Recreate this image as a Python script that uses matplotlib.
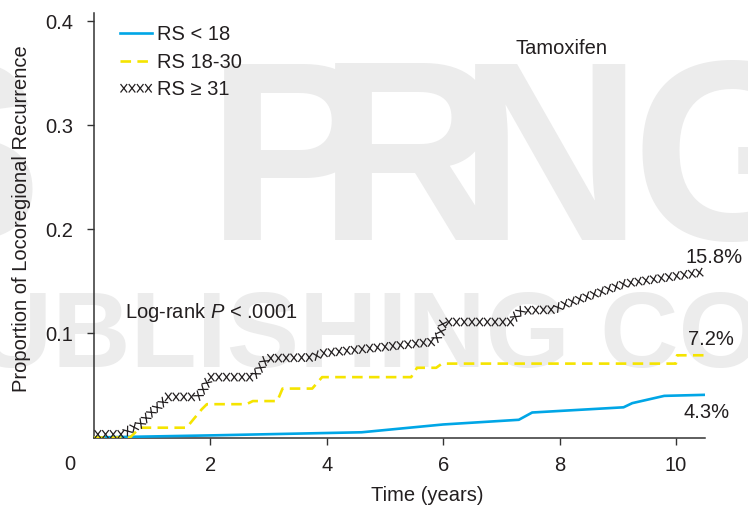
import matplotlib
matplotlib.use("Agg")
import matplotlib.pyplot as plt
import matplotlib.patheffects as pe

plt.rcParams['font.family'] = ['Liberation Sans', 'DejaVu Sans']
plt.rcParams['mathtext.fontset'] = 'custom'
plt.rcParams['mathtext.rm'] = 'Liberation Sans'
plt.rcParams['mathtext.it'] = 'Liberation Sans:italic'

#%% Datos (curvas acumuladas de recurrencia locorregional)
t_low = [0, 2.0, 4.6, 6.0, 7.3, 7.53, 9.1, 9.25, 9.8, 10.5]
y_low = [0, 0.002, 0.005, 0.0125, 0.017, 0.024, 0.029, 0.033, 0.040, 0.041]

t_mid = [0, 0.62, 0.79, 1.59, 1.85, 1.94, 2.62, 2.73, 3.15, 3.24, 3.75, 3.92,
         5.45, 5.55, 5.88, 5.98, 10.0, 10.02, 10.5]
y_mid = [0, 0, 0.0094, 0.0094, 0.027, 0.032, 0.032, 0.035, 0.035, 0.047, 0.047, 0.058,
         0.058, 0.067, 0.067, 0.071, 0.071, 0.079, 0.079]

t_high = [0, 0.5, 0.62, 0.78, 0.9, 1.0, 1.15, 1.27, 1.78, 1.9, 1.99, 2.73, 2.85,
          2.96, 3.75, 3.93, 5.84, 5.96, 6.0, 7.18, 7.26, 7.34, 7.92, 8.04, 9.13, 10.47]
y_high = [0.003, 0.003, 0.008, 0.012, 0.019, 0.025, 0.032, 0.039, 0.039, 0.048, 0.058,
          0.058, 0.066, 0.076, 0.077, 0.081, 0.092, 0.101, 0.111, 0.111, 0.118, 0.122,
          0.123, 0.127, 0.148, 0.159]

labels = ['RS < 18', 'RS 18-30', 'RS ≥ 31']
final_pct = ['4.3%', '7.2%', '15.8%']
x_ticks = [2, 4, 6, 8, 10]
y_ticks = [0.1, 0.2, 0.3, 0.4]

txt = '#231f20'
W, H = 748, 509

fig = plt.figure(figsize=(7.48, 5.09), dpi=100)

#%% marca de agua de fondo
wm = '#ececec'
for ch, xl in [('S', -128), ('P', 207), ('R', 318), ('N', 458), ('G', 632)]:
    fig.text(xl / W, 1 - 240 / H, ch, fontsize=184, fontweight='bold',
             color=wm, ha='left', va='baseline', zorder=-5)
fig.text(-26 / W, 1 - 367 / H, 'UBLISHING COM', fontsize=78, fontweight='bold',
         color=wm, ha='left', va='baseline', zorder=-5)

ax = fig.add_axes([94 / W, 1 - 438 / H, (705 - 94) / W, (438 - 13) / H])
ax.patch.set_alpha(0)

ax.plot(t_low, y_low, color='#00a6e6', lw=1.9, label=labels[0], zorder=3)
ax.plot(t_mid, y_mid, color='#f5e400', lw=1.9, dashes=(4, 2.4), label=labels[1], zorder=3)

# RS >= 31 se dibuja como una fila de "x"
xfx = [pe.TickedStroke(spacing=5.5, angle=a, length=0.62) for a in (52, 128, -52, -128)]
ax.plot(t_high, y_high, color=txt, lw=0.9, label=labels[2], zorder=4, path_effects=xfx)

ax.set_xlim(0, 10.5)
ax.set_ylim(-0.0005, 0.408)
ax.set_xticks(x_ticks)
ax.set_yticks(y_ticks)
ax.set_yticklabels([f'{v:.1f}' for v in y_ticks])
for s in ['top', 'right']:
    ax.spines[s].set_visible(False)
for s in ['left', 'bottom']:
    ax.spines[s].set_color('#333333')
    ax.spines[s].set_linewidth(1.1)
ax.tick_params(axis='both', direction='out', length=5, width=1.0, color='#333333',
               labelsize=14.5, labelcolor=txt)
ax.tick_params(axis='y', pad=10)
ax.tick_params(axis='x', pad=8)

ax.set_xlabel('Time (years)', fontsize=14.5, color=txt)
ax.xaxis.set_label_coords((427 - 94) / 611, (438 - 486) / 425)
ax.set_ylabel('Proportion of Locoregional Recurrence', fontsize=14.5, color=txt)
ax.yaxis.set_label_coords((31 - 94) / 611, 0.515)

fig.text(70 / W, 1 - 465 / H, '0', fontsize=14.5, color=txt, ha='center', va='center')

ax.text(8.04, 0.3736, 'Tamoxifen', fontsize=14.5, color=txt, ha='center', va='center')
ax.text(0.53, 0.12, 'Log-rank $P$ < .0001', fontsize=14.5, color=txt, ha='left', va='center')
ax.text(10.13, 0.0236, final_pct[0], fontsize=14.5, color=txt, ha='left', va='center')
ax.text(10.2, 0.094, final_pct[1], fontsize=14.5, color=txt, ha='left', va='center')
ax.text(10.16, 0.1726, final_pct[2], fontsize=14.5, color=txt, ha='left', va='center')

leg = ax.legend(loc='upper left', bbox_to_anchor=((120 - 94) / 611, (438 - 25) / 425),
                frameon=False, fontsize=14.5, handlelength=1.6, handletextpad=0.25,
                labelspacing=0.43, borderpad=0, borderaxespad=0)
for t in leg.get_texts():
    t.set_color(txt)

fig.savefig('out.png', dpi=100)
